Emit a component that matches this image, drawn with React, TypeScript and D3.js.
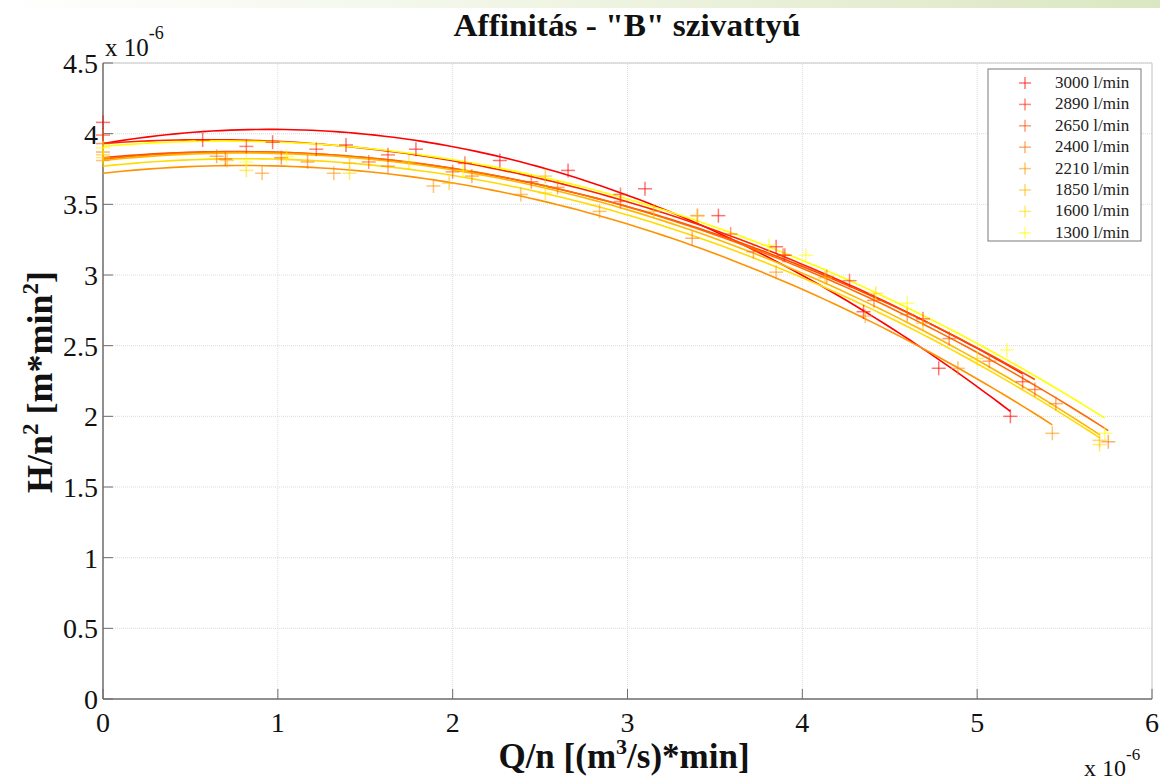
import React from "react";
import * as d3 from "d3";

// Legend labels (speed of the pump)
const seriesNames = ["3000 l/min", "2890 l/min", "2650 l/min", "2400 l/min", "2210 l/min", "1850 l/min", "1600 l/min", "1300 l/min"];
const seriesColors = ["#ff0000", "#ff2400", "#ff4900", "#ff6d00", "#ff9200", "#ffb600", "#ffdb00", "#ffff00"];

// Measured points [Q/n (x1e-6), H/n^2 (x1e-6)]
const pts3000 = [[0, 4.08], [0.57, 3.955], [0.97, 3.94], [1.39, 3.92], [1.79, 3.89], [2.27, 3.81], [2.66, 3.74], [3.10, 3.61], [3.52, 3.42], [3.85, 3.20], [4.35, 2.74], [4.78, 2.34], [5.19, 2.00]];
const pts2890 = [[0, 3.99], [0.82, 3.91], [1.22, 3.89], [1.63, 3.85], [2.07, 3.79], [2.96, 3.57], [3.40, 3.42], [3.90, 3.14], [4.27, 2.96], [4.69, 2.69], [5.26, 2.245]];
const pts2650 = [[0, 3.93], [0.70, 3.82], [1.02, 3.83], [1.52, 3.80], [2.00, 3.73], [2.45, 3.66], [2.96, 3.52], [3.59, 3.29], [3.89, 3.14], [4.41, 2.82], [4.84, 2.55], [5.33, 2.19]];
const pts2400 = [[0, 3.87], [0.65, 3.84], [1.17, 3.80], [1.63, 3.77], [2.11, 3.70], [2.60, 3.62], [3.37, 3.26], [3.72, 3.165], [4.14, 2.99], [4.60, 2.72], [5.07, 2.39], [5.45, 2.09], [5.75, 1.82]];
const pts2210 = [[0, 3.81], [0.91, 3.72], [1.32, 3.72], [1.89, 3.63], [2.39, 3.57], [2.84, 3.45], [3.85, 3.02], [4.36, 2.71], [4.89, 2.34], [5.43, 1.88]];
const pts1850 = [[0, 3.85], [0.71, 3.81], [1.41, 3.79], [1.98, 3.65], [2.53, 3.70], [3.15, 3.45], [4.13, 2.98], [4.69, 2.66], [5.70, 1.83]];
const pts1600 = [[0, 3.83], [0.82, 3.74], [1.41, 3.72], [1.75, 3.80], [2.53, 3.58], [3.40, 3.42], [4.42, 2.87], [5.00, 2.41], [5.70, 1.80]];
const pts1300 = [[0, 3.90], [0.82, 3.80], [1.05, 3.84], [2.06, 3.74], [3.81, 3.21], [4.02, 3.14], [4.60, 2.80], [5.17, 2.47], [5.73, 1.88]];
const seriesPoints = [pts3000, pts2890, pts2650, pts2400, pts2210, pts1850, pts1600, pts1300];

// Quadratic fit coefficients H = a + b*Q + c*Q^2
const fitA = [3.93, 3.93, 3.83, 3.82, 3.72, 3.81, 3.77, 3.91];
const fitB = [0.211, 0.0916, 0.1154, 0.1288, 0.137, 0.1328, 0.1315, 0.108];
const fitC = [-0.111, -0.0763, -0.0769, -0.0805, -0.0856, -0.083, -0.0822, -0.0774];

const xTicks = [0, 1, 2, 3, 4, 5, 6];
const yTicks = [0, 0.5, 1, 1.5, 2, 2.5, 3, 3.5, 4, 4.5];

const W = 1160;
const H = 783;
const FONT = "'Liberation Serif', 'DejaVu Serif', serif";

export default function App() {
  const x = d3.scaleLinear().domain([0, 6]).range([103, 1152]);
  const y = d3.scaleLinear().domain([0, 4.5]).range([699, 63]);
  const line = d3.line<number[]>().x((d) => x(d[0])).y((d) => y(d[1]));

  const curves = seriesPoints.map((pts, i) => {
    const end = d3.max(pts, (p) => p[0]) as number;
    const qs = d3.range(0, 101).map((k) => (end * k) / 100);
    return qs.map((q) => [q, fitA[i] + fitB[i] * q + fitC[i] * q * q]);
  });

  const plus = (cx: number, cy: number, color: string, key: string, s = 7) => (
    <g key={key} stroke={color} strokeOpacity={0.55} strokeWidth={1.5}>
      <line x1={cx - s} x2={cx + s} y1={cy} y2={cy} />
      <line x1={cx} x2={cx} y1={cy - s} y2={cy + s} />
    </g>
  );

  const legX = 988, legY = 69, legW = 153, legH = 172, rowH = 21.4;

  return (
    <svg width={W} height={H} style={{ position: "absolute", left: 0, top: 0, background: "#fff" }} fontFamily={FONT}>
      <defs>
        <linearGradient id="topband" x1="0" x2="1" y1="0" y2="0">
          <stop offset="0" stopColor="#ffffff" />
          <stop offset="0.5" stopColor="#eff4e2" />
          <stop offset="1" stopColor="#dbe7c2" />
        </linearGradient>
      </defs>
      <rect x={0} y={0} width={W} height={H} fill="#fff" />
      <rect x={0} y={0} width={W} height={8} fill="url(#topband)" />

      {/* grid */}
      {xTicks.map((t) => (
        <line key={"gx" + t} x1={x(t)} x2={x(t)} y1={y(0)} y2={y(4.5)} stroke="#dcdcdc" strokeWidth={1} strokeDasharray="1 1" />
      ))}
      {yTicks.map((t) => (
        <line key={"gy" + t} x1={x(0)} x2={x(6)} y1={y(t)} y2={y(t)} stroke="#dcdcdc" strokeWidth={1} strokeDasharray="1 1" />
      ))}

      {/* box */}
      <line x1={x(0)} x2={x(6)} y1={y(4.5)} y2={y(4.5)} stroke="#c8c8c8" strokeWidth={1} />
      <line x1={x(6)} x2={x(6)} y1={y(0)} y2={y(4.5)} stroke="#c8c8c8" strokeWidth={1} />
      <line x1={x(0)} x2={x(6)} y1={y(0)} y2={y(0)} stroke="#6e6e6e" strokeWidth={1.5} />
      <line x1={x(0)} x2={x(0)} y1={y(0)} y2={y(4.5)} stroke="#6e6e6e" strokeWidth={1.5} />

      {/* ticks */}
      {xTicks.map((t) => (
        <line key={"tx" + t} x1={x(t)} x2={x(t)} y1={y(0)} y2={y(0) - 10} stroke="#6e6e6e" strokeWidth={1} />
      ))}
      {yTicks.map((t) => (
        <line key={"ty" + t} x1={x(0)} x2={x(0) + 10} y1={y(t)} y2={y(t)} stroke="#6e6e6e" strokeWidth={1} />
      ))}

      {/* tick labels */}
      {xTicks.map((t) => (
        <text key={"lx" + t} x={x(t)} y={y(0) + 33} textAnchor="middle" fontSize={28} fill="#111">{t}</text>
      ))}
      {yTicks.map((t) => (
        <text key={"ly" + t} x={x(0) - 5} y={y(t) + 10} textAnchor="end" fontSize={28} fill="#111">{t}</text>
      ))}

      {/* exponent labels */}
      <text x={105} y={56} fontSize={25} fill="#111">x 10<tspan dy={-17} fontSize={18}>-6</tspan></text>
      <text x={1084} y={776} fontSize={24} fill="#111">x 10<tspan dy={-16} fontSize={17}>-6</tspan></text>

      {/* curves */}
      {curves.map((c, i) => (
        <path key={"c" + i} d={line(c) || ""} fill="none" stroke={seriesColors[i]} strokeWidth={1.6} />
      ))}

      {/* points */}
      {seriesPoints.map((pts, i) => pts.map((p, j) => plus(x(p[0]), y(p[1]), seriesColors[i], `p${i}_${j}`)))}

      {/* title */}
      <text x={627} y={36} textAnchor="middle" fontSize={31} fontWeight="bold" fill="#111" textLength={347} lengthAdjust="spacingAndGlyphs">Affinitás - "B" szivattyú</text>

      {/* axis labels */}
      <text x={624} y={768} textAnchor="middle" fontSize={35} fontWeight="bold" fill="#111">
        Q/n [(m<tspan dy={-14} fontSize={22}>3</tspan><tspan dy={14}>/s)*min]</tspan>
      </text>
      <text transform="translate(52,382) rotate(-90)" textAnchor="middle" fontSize={36} fontWeight="bold" fill="#111">
        H/n<tspan dy={-14} fontSize={23}>2</tspan><tspan dy={14}> [m*min</tspan><tspan dy={-14} fontSize={23}>2</tspan><tspan dy={14}>]</tspan>
      </text>

      {/* legend */}
      <rect x={legX} y={legY} width={legW} height={legH} fill="#fff" stroke="#7a7a7a" strokeWidth={1} />
      {seriesNames.map((n, i) => {
        const cy = legY + 14 + i * rowH;
        return (
          <g key={"lg" + i}>
            {plus(1025, cy, seriesColors[i], "lgp" + i, 6)}
            <text x={1055} y={cy + 5} fontSize={17} fill="#222">{n}</text>
          </g>
        );
      })}
    </svg>
  );
}
